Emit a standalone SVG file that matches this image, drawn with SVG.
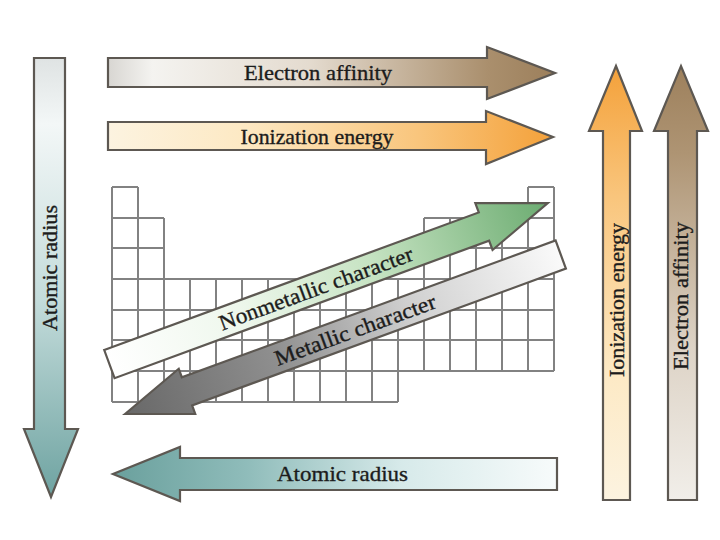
<svg xmlns="http://www.w3.org/2000/svg" width="720" height="540" viewBox="0 0 720 540">
  <style>
    .grid { fill: none; stroke: #828282; stroke-width: 2; }
    .arrow { stroke: #5d5852; stroke-width: 2.2; stroke-linejoin: miter; }
    .lbl { font-family: "Liberation Serif", "Times New Roman", serif; font-size: 22px; fill: #1c1c1c; stroke: #1c1c1c; stroke-width: 0.35; text-anchor: middle; }
  </style>
  <defs>
    <linearGradient id="gEAh" gradientUnits="userSpaceOnUse" x1="108" y1="0" x2="555" y2="0">
      <stop offset="0" stop-color="#d8d6d2"/>
      <stop offset="0.1" stop-color="#f4f3f0"/>
      <stop offset="0.45" stop-color="#e4dbcf"/>
      <stop offset="0.85" stop-color="#aa8f6d"/>
      <stop offset="1" stop-color="#9c7f5b"/>
    </linearGradient>
    <linearGradient id="gIEh" gradientUnits="userSpaceOnUse" x1="108" y1="0" x2="553" y2="0">
      <stop offset="0" stop-color="#fcf3e0"/>
      <stop offset="0.3" stop-color="#fde9c4"/>
      <stop offset="0.7" stop-color="#f9c57c"/>
      <stop offset="1" stop-color="#f4a13a"/>
    </linearGradient>
    <linearGradient id="gIEv" gradientUnits="userSpaceOnUse" x1="0" y1="500" x2="0" y2="66">
      <stop offset="0" stop-color="#fcf3e0"/>
      <stop offset="0.3" stop-color="#fde9c4"/>
      <stop offset="0.7" stop-color="#f9c57c"/>
      <stop offset="1" stop-color="#f4a13a"/>
    </linearGradient>
    <linearGradient id="gEAv" gradientUnits="userSpaceOnUse" x1="0" y1="500" x2="0" y2="66">
      <stop offset="0" stop-color="#f1eee9"/>
      <stop offset="0.35" stop-color="#ddd3c6"/>
      <stop offset="0.8" stop-color="#ae9473"/>
      <stop offset="1" stop-color="#9d805c"/>
    </linearGradient>
    <linearGradient id="gARv" gradientUnits="userSpaceOnUse" x1="0" y1="58" x2="0" y2="497">
      <stop offset="0" stop-color="#dfe3e3"/>
      <stop offset="0.15" stop-color="#f3f7f7"/>
      <stop offset="0.55" stop-color="#c4dcdb"/>
      <stop offset="1" stop-color="#6ea3a1"/>
    </linearGradient>
    <linearGradient id="gARh" gradientUnits="userSpaceOnUse" x1="557" y1="0" x2="113" y2="0">
      <stop offset="0" stop-color="#f7fbfb"/>
      <stop offset="0.35" stop-color="#d7eaea"/>
      <stop offset="0.7" stop-color="#8fbcba"/>
      <stop offset="1" stop-color="#6aa09d"/>
    </linearGradient>
    <linearGradient id="gNM" gradientUnits="userSpaceOnUse" x1="0" y1="0" x2="467" y2="0">
      <stop offset="0" stop-color="#ffffff"/>
      <stop offset="0.3" stop-color="#eef7ec"/>
      <stop offset="0.6" stop-color="#c6e3c2"/>
      <stop offset="1" stop-color="#6cac71"/>
    </linearGradient>
    <linearGradient id="gM" gradientUnits="userSpaceOnUse" x1="0" y1="0" x2="464" y2="0">
      <stop offset="0" stop-color="#686868"/>
      <stop offset="0.35" stop-color="#8f8f8f"/>
      <stop offset="0.65" stop-color="#cfcfcf"/>
      <stop offset="1" stop-color="#fafafa"/>
    </linearGradient>
  </defs>

  <rect x="0" y="0" width="720" height="540" fill="#ffffff"/>

  <g id="periodic-table">
    <path class="grid" d="
      M112,187 H138 M528,187 H554
      M112,218 H164 M424,218 H554
      M112,248 H164 M424,248 H554
      M112,279 H554 M112,310 H554 M112,340 H554 M112,371 H554
      M112,402 H398
      M112,187 V402 M138,187 V402 M164,218 V402
      M190,279 V402 M216,279 V402 M242,279 V402 M268,279 V402 M294,279 V402
      M320,279 V402 M346,279 V402 M372,279 V402 M398,279 V402
      M424,218 V371 M450,218 V371 M476,218 V371 M502,218 V371
      M528,187 V371 M554,187 V371"/>
  </g>

  <g id="electron-affinity-row">
    <path class="arrow" fill="url(#gEAh)" d="M108,58 L487,58 L487,47 L555,73 L487,99 L487,87 L108,87 Z"/>
    <text class="lbl" x="318" y="80" textLength="148" lengthAdjust="spacingAndGlyphs">Electron affinity</text>
  </g>

  <g id="ionization-energy-row">
    <path class="arrow" fill="url(#gIEh)" d="M108,122 L486,122 L486,111 L553,137 L486,164 L486,150 L108,150 Z"/>
    <text class="lbl" x="317" y="144" textLength="153" lengthAdjust="spacingAndGlyphs">Ionization energy</text>
  </g>

  <g id="atomic-radius-group">
    <path class="arrow" fill="url(#gARv)" d="M34,58 L65,58 L65,429 L78,429 L51,497 L24,429 L34,429 Z"/>
    <text class="lbl" transform="translate(57,268) rotate(-90)" x="0" y="0" textLength="126" lengthAdjust="spacingAndGlyphs">Atomic radius</text>
  </g>

  <g id="atomic-radius-row">
    <path class="arrow" fill="url(#gARh)" d="M557,458 L180,458 L180,447 L113,474 L180,501 L180,490 L557,490 Z"/>
    <text class="lbl" x="342.5" y="481" textLength="131" lengthAdjust="spacingAndGlyphs">Atomic radius</text>
  </g>

  <g id="ionization-energy-group">
    <path class="arrow" fill="url(#gIEv)" d="M603,500 L603,131 L589,131 L616,66 L642,131 L630,131 L630,500 Z"/>
    <text class="lbl" transform="translate(624,300) rotate(-90)" x="0" y="0" textLength="154" lengthAdjust="spacingAndGlyphs">Ionization energy</text>
  </g>

  <g id="electron-affinity-group">
    <path class="arrow" fill="url(#gEAv)" d="M668,500 L668,131 L654,131 L681,66 L708,131 L697,131 L697,500 Z"/>
    <text class="lbl" transform="translate(688,296) rotate(-90)" x="0" y="0" textLength="148" lengthAdjust="spacingAndGlyphs">Electron affinity</text>
  </g>

  <g id="nonmetallic-character" transform="translate(109.4,364.1) rotate(-20.17)">
    <path class="arrow" fill="url(#gNM)" d="M0,-15 L399,-15 L399,-25 L467,0 L399,25 L399,15 L0,15 Z"/>
    <text class="lbl" x="220" y="7.5" textLength="205" lengthAdjust="spacingAndGlyphs">Nonmetallic character</text>
  </g>

  <g id="metallic-character" transform="translate(125,414) rotate(-20.1)">
    <path class="arrow" fill="url(#gM)" d="M0,0 L66,-24 L66,-15 L464,-15 L464,15 L66,15 L66,24 Z"/>
    <text class="lbl" x="245" y="7.5" textLength="170" lengthAdjust="spacingAndGlyphs">Metallic character</text>
  </g>
</svg>
